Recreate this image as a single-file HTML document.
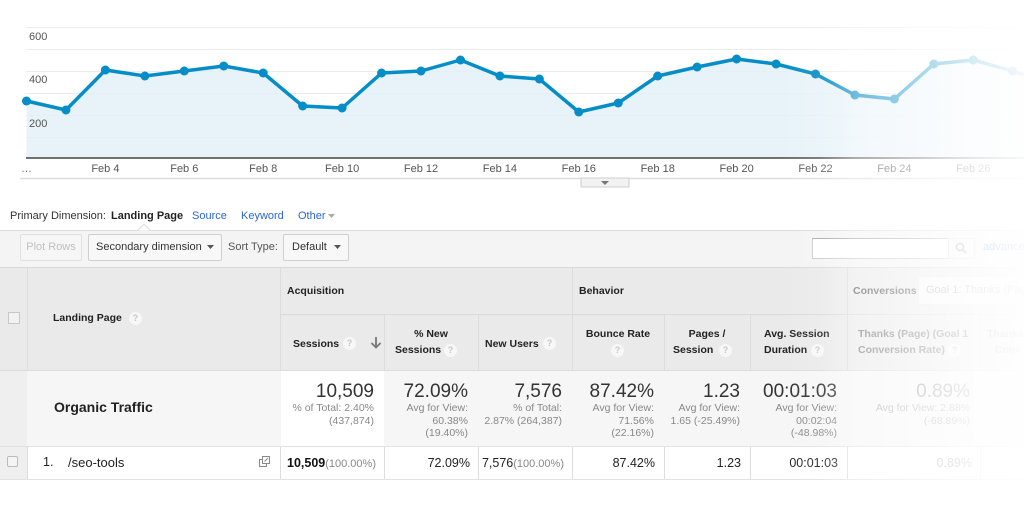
<!DOCTYPE html>
<html><head><meta charset="utf-8">
<style>
*{margin:0;padding:0;box-sizing:border-box}
html,body{width:1024px;height:508px;overflow:hidden;background:#fff;font-family:"Liberation Sans",Arial,sans-serif;color:#333}
.a{position:absolute;white-space:nowrap}
.q{position:absolute;width:13px;height:13px;border-radius:50%;background:#f7f7f7;color:#c8c8c8;font-size:9px;line-height:13px;text-align:center;font-weight:bold}
.hb{font-size:10.5px;font-weight:bold;color:#222}
.big{font-size:19px;color:#333;text-align:right;line-height:20px}
.sub{font-size:10.5px;color:#888;text-align:right;line-height:12.5px}
.dv{position:absolute;width:1px;background:#dcdcdc}
.dr{font-size:12.5px;color:#222;text-align:right}
</style></head><body>

<!-- CHART -->
<svg class="a" style="left:0;top:0" width="1024" height="192" viewBox="0 0 1024 192">
  <g stroke="#ececec" stroke-width="1">
    <line x1="26" y1="27.5" x2="1024" y2="27.5"/>
    <line x1="26" y1="49.5" x2="1024" y2="49.5"/>
    <line x1="26" y1="71.5" x2="1024" y2="71.5"/>
    <line x1="26" y1="93.5" x2="1024" y2="93.5"/>
    <line x1="26" y1="115.5" x2="1024" y2="115.5"/>
    <line x1="26" y1="137.5" x2="1024" y2="137.5"/>
  </g>
  <polygon fill="#e4f1f8" fill-opacity="0.85" points="26.5,158 26.5,101 65.95,110 105.4,70 144.85,76 184.3,71 223.75,66 263.2,73 302.65,106 342.1,108 381.55,73 421,71 460.45,60 499.9,76 539.35,79 578.8,112 618.25,103 657.7,76 697.15,67 736.6,59 776.05,64 815.5,74 854.95,95 894.4,99 933.85,64 973.3,60 1012.75,71 1024,75 1024,158"/>
  <line x1="26" y1="158" x2="1024" y2="158" stroke="#444" stroke-width="1.5"/>
  <polyline fill="none" stroke="#058dc7" stroke-width="3.5" stroke-linejoin="round" points="26.5,101 65.95,110 105.4,70 144.85,76 184.3,71 223.75,66 263.2,73 302.65,106 342.1,108 381.55,73 421,71 460.45,60 499.9,76 539.35,79 578.8,112 618.25,103 657.7,76 697.15,67 736.6,59 776.05,64 815.5,74 854.95,95 894.4,99 933.85,64 973.3,60 1012.75,71 1024,75"/>
  <g fill="#058dc7">
    <circle cx="26.5" cy="101" r="4.5"/><circle cx="65.95" cy="110" r="4.5"/><circle cx="105.4" cy="70" r="4.5"/><circle cx="144.85" cy="76" r="4.5"/><circle cx="184.3" cy="71" r="4.5"/><circle cx="223.75" cy="66" r="4.5"/><circle cx="263.2" cy="73" r="4.5"/><circle cx="302.65" cy="106" r="4.5"/><circle cx="342.1" cy="108" r="4.5"/><circle cx="381.55" cy="73" r="4.5"/><circle cx="421" cy="71" r="4.5"/><circle cx="460.45" cy="60" r="4.5"/><circle cx="499.9" cy="76" r="4.5"/><circle cx="539.35" cy="79" r="4.5"/><circle cx="578.8" cy="112" r="4.5"/><circle cx="618.25" cy="103" r="4.5"/><circle cx="657.7" cy="76" r="4.5"/><circle cx="697.15" cy="67" r="4.5"/><circle cx="736.6" cy="59" r="4.5"/><circle cx="776.05" cy="64" r="4.5"/><circle cx="815.5" cy="74" r="4.5"/><circle cx="854.95" cy="95" r="4.5"/><circle cx="894.4" cy="99" r="4.5"/><circle cx="933.85" cy="64" r="4.5"/><circle cx="973.3" cy="60" r="4.5"/><circle cx="1012.75" cy="71" r="4.5"/>
  </g>
  <g font-family="Liberation Sans, Arial, sans-serif" font-size="11" fill="#555">
    <text x="29" y="40">600</text>
    <text x="29" y="83">400</text>
    <text x="29" y="127">200</text>
    <text x="21" y="172" fill="#777">…</text>
  </g>
  <g font-family="Liberation Sans, Arial, sans-serif" font-size="11" fill="#555" text-anchor="middle">
    <text x="105.4" y="172">Feb 4</text>
    <text x="184.3" y="172">Feb 6</text>
    <text x="263.2" y="172">Feb 8</text>
    <text x="342.1" y="172">Feb 10</text>
    <text x="421" y="172">Feb 12</text>
    <text x="499.9" y="172">Feb 14</text>
    <text x="578.8" y="172">Feb 16</text>
    <text x="657.7" y="172">Feb 18</text>
    <text x="736.6" y="172">Feb 20</text>
    <text x="815.5" y="172">Feb 22</text>
    <text x="894.4" y="172">Feb 24</text>
    <text x="973.3" y="172">Feb 26</text>
  </g>
  <line x1="20" y1="178.5" x2="1024" y2="178.5" stroke="#dedede" stroke-width="1.5"/>
  <rect x="581" y="178" width="48" height="9" fill="#f2f2f2" stroke="#cfcfcf" stroke-width="1"/>
  <polygon points="601,181 609,181 605,185" fill="#777"/>
</svg>

<!-- Primary dimension -->
<div class="a" style="left:10px;top:210px;font-size:11px;color:#333">Primary Dimension:</div>
<div class="a" style="left:111px;top:210px;font-size:11px;font-weight:bold;color:#222">Landing Page</div>
<div class="a" style="left:192px;top:210px;font-size:11px;color:#2b66d3">Source</div>
<div class="a" style="left:241px;top:210px;font-size:11px;color:#2b66d3">Keyword</div>
<div class="a" style="left:298px;top:210px;font-size:11px;color:#2b66d3">Other</div>
<svg class="a" style="left:328px;top:214px" width="8" height="5"><polygon points="0,0 7,0 3.5,4" fill="#aaa"/></svg>

<!-- toolbar -->
<div class="a" style="left:0;top:230px;width:1024px;height:37px;background:#f4f4f4;border-top:1px solid #dcdcdc"></div>
<svg class="a" style="left:137px;top:224px" width="14" height="8"><polygon points="0,7 7,0 14,7" fill="#fff" stroke="#dcdcdc"/><rect x="0" y="7" width="14" height="1" fill="#f4f4f4"/></svg>
<div class="a" style="left:20px;top:234px;width:62px;height:27px;border:1px solid #e0e0e0;border-radius:2px;background:#f6f6f6;font-size:11px;color:#c0c0c0;text-align:center;line-height:25px">Plot Rows</div>
<div class="a" style="left:88px;top:234px;width:134px;height:27px;border:1px solid #cfcfcf;border-radius:2px;background:#f8f8f8;font-size:11px;color:#333;line-height:25px;padding-left:7px">Secondary dimension</div>
<svg class="a" style="left:207px;top:245px" width="8" height="5"><polygon points="0,0 7,0 3.5,4" fill="#555"/></svg>
<div class="a" style="left:228px;top:241px;font-size:11px;color:#555">Sort Type:</div>
<div class="a" style="left:283px;top:234px;width:66px;height:27px;border:1px solid #cfcfcf;border-radius:2px;background:#f8f8f8;font-size:11px;color:#333;line-height:25px;padding-left:8px">Default</div>
<svg class="a" style="left:334px;top:245px" width="8" height="5"><polygon points="0,0 7,0 3.5,4" fill="#555"/></svg>
<div class="a" style="left:812px;top:238px;width:137px;height:21px;background:#fff;border:1px solid #ccc;border-top-color:#aaa"></div>
<div class="a" style="left:948px;top:238px;width:27px;height:21px;background:#f4f4f4;border:1px solid #ddd"></div>
<svg class="a" style="left:955px;top:242px" width="13" height="13"><circle cx="5" cy="5" r="3.6" fill="none" stroke="#999" stroke-width="1.6"/><line x1="7.5" y1="7.5" x2="11" y2="11" stroke="#999" stroke-width="2"/></svg>
<div class="a" style="left:983px;top:241px;font-size:11px;color:#2b66d3">advanced</div>

<!-- table header -->
<div class="a" style="left:0;top:267px;width:1024px;height:104px;background:#eaeaea;border-top:1px solid #d8d8d8;border-bottom:1px solid #dcdcdc"></div>
<div class="a" style="left:280px;top:314px;width:744px;height:1px;background:#dadada"></div>
<div class="dv" style="left:27px;top:267px;height:212px"></div>
<div class="dv" style="left:280px;top:267px;height:212px"></div>
<div class="dv" style="left:572px;top:267px;height:212px"></div>
<div class="dv" style="left:847px;top:267px;height:212px"></div>
<div class="dv" style="left:384px;top:314px;height:165px"></div>
<div class="dv" style="left:478px;top:314px;height:165px"></div>
<div class="dv" style="left:664px;top:314px;height:165px"></div>
<div class="dv" style="left:750px;top:314px;height:165px"></div>
<div class="dv" style="left:980px;top:314px;height:165px"></div>

<div class="a" style="left:8px;top:312px;width:12px;height:12px;border:1px solid #c8c8c8;background:#f2f2f2"></div>
<div class="a hb" style="left:53px;top:312px">Landing Page</div>
<div class="q" style="left:129px;top:312px">?</div>

<div class="a hb" style="left:287px;top:285px">Acquisition</div>
<div class="a hb" style="left:579px;top:285px">Behavior</div>
<div class="a hb" style="left:853px;top:285px;color:#555">Conversions</div>
<div class="a" style="left:918px;top:276px;width:100px;height:29px;background:#f7f7f7;border:1px solid #e6e6e6;font-size:11px;color:#aaa;line-height:27px;padding-left:7px">Goal 1: Thanks (Page)</div>

<div class="a hb" style="left:293px;top:338px">Sessions</div>
<div class="q" style="left:343px;top:337px">?</div>
<svg class="a" style="left:370px;top:336px" width="12" height="13"><line x1="6" y1="1" x2="6" y2="11" stroke="#777" stroke-width="1.8"/><polyline points="1.5,7 6,11.5 10.5,7" fill="none" stroke="#777" stroke-width="1.8"/></svg>

<div class="a hb" style="left:384px;top:328px;width:94px;text-align:center">% New</div>
<div class="a hb" style="left:395px;top:344px">Sessions</div>
<div class="q" style="left:444px;top:344px">?</div>

<div class="a hb" style="left:485px;top:338px">New Users</div>
<div class="q" style="left:543px;top:337px">?</div>

<div class="a hb" style="left:572px;top:328px;width:92px;text-align:center">Bounce Rate</div>
<div class="q" style="left:611px;top:344px">?</div>

<div class="a hb" style="left:664px;top:328px;width:86px;text-align:center">Pages /</div>
<div class="a hb" style="left:673px;top:344px">Session</div>
<div class="q" style="left:719px;top:344px">?</div>

<div class="a hb" style="left:764px;top:328px">Avg. Session</div>
<div class="a hb" style="left:764px;top:344px">Duration</div>
<div class="q" style="left:811px;top:344px">?</div>

<div class="a hb" style="left:858px;top:328px;color:#777">Thanks (Page) (Goal 1</div>
<div class="a hb" style="left:858px;top:344px;color:#777">Conversion Rate)</div>
<div class="q" style="left:948px;top:344px">?</div>
<div class="a hb" style="left:987px;top:328px;color:#aaa">Thanks</div>
<div class="a hb" style="left:995px;top:344px;color:#aaa">Conv</div>

<!-- summary row -->
<div class="a" style="left:0;top:371px;width:1024px;height:75px;background:#f6f6f6"></div>
<div class="a" style="left:0;top:371px;width:27px;height:108px;background:#efefef"></div>
<div class="a" style="left:281px;top:371px;width:103px;height:75px;background:#fff"></div>
<div class="a" style="left:54px;top:399px;font-size:14px;font-weight:bold;color:#222">Organic Traffic</div>

<div class="a" style="right:650px;top:382px;text-align:right"><div class="big">10,509</div><div class="sub">% of Total: 2.40%<br>(437,874)</div></div>
<div class="a" style="right:556px;top:382px;text-align:right"><div class="big">72.09%</div><div class="sub">Avg for View:<br>60.38%<br>(19.40%)</div></div>
<div class="a" style="right:462px;top:382px;text-align:right"><div class="big">7,576</div><div class="sub">% of Total:<br>2.87% (264,387)</div></div>
<div class="a" style="right:370px;top:382px;text-align:right"><div class="big">87.42%</div><div class="sub">Avg for View:<br>71.56%<br>(22.16%)</div></div>
<div class="a" style="right:284px;top:382px;text-align:right"><div class="big">1.23</div><div class="sub">Avg for View:<br>1.65 (-25.49%)</div></div>
<div class="a" style="right:187px;top:382px;text-align:right"><div class="big">00:01:03</div><div class="sub">Avg for View:<br>00:02:04<br>(-48.98%)</div></div>
<div class="a" style="right:54px;top:382px;text-align:right"><div class="big" style="color:#999">0.89%</div><div class="sub" style="color:#aaa">Avg for View: 2.88%<br>(-68.89%)</div></div>

<!-- data row -->
<div class="a" style="left:0;top:446px;width:1024px;height:1px;background:#e2e2e2"></div>
<div class="a" style="left:0;top:479px;width:1024px;height:1px;background:#e2e2e2"></div>
<div class="a" style="left:7px;top:456px;width:11px;height:11px;border:1px solid #bbb;border-radius:2px;background:#f4f4f4"></div>
<div class="a" style="left:43px;top:455px;font-size:12.5px;color:#222">1.</div>
<div class="a" style="left:68px;top:455px;font-size:13px;color:#222">/seo-tools</div>
<svg class="a" style="left:259px;top:456px" width="12" height="11"><rect x="0.5" y="3.5" width="7" height="7" fill="#fff" stroke="#888"/><rect x="3.5" y="0.5" width="7" height="7" fill="#fff" stroke="#888"/><line x1="5.5" y1="5.5" x2="9" y2="2" stroke="#888"/></svg>
<div class="a dr" style="right:648px;top:456px"><b style="color:#111">10,509</b><span style="font-size:11px;color:#888">(100.00%)</span></div>
<div class="a dr" style="right:554px;top:456px">72.09%</div>
<div class="a dr" style="right:460px;top:456px">7,576<span style="font-size:11px;color:#888">(100.00%)</span></div>
<div class="a dr" style="right:369px;top:456px">87.42%</div>
<div class="a dr" style="right:283px;top:456px">1.23</div>
<div class="a dr" style="right:186px;top:456px">00:01:03</div>
<div class="a dr" style="right:52px;top:456px;color:#999">0.89%</div>

<!-- right fade -->
<div class="a" style="left:780px;top:0;width:244px;height:508px;background:linear-gradient(to right,rgba(255,255,255,0) 0px,rgba(255,255,255,0.1) 40px,rgba(255,255,255,0.42) 75px,rgba(255,255,255,0.55) 115px,rgba(255,255,255,0.7) 155px,rgba(255,255,255,0.84) 195px,rgba(255,255,255,0.95) 244px)"></div>
</body></html>
